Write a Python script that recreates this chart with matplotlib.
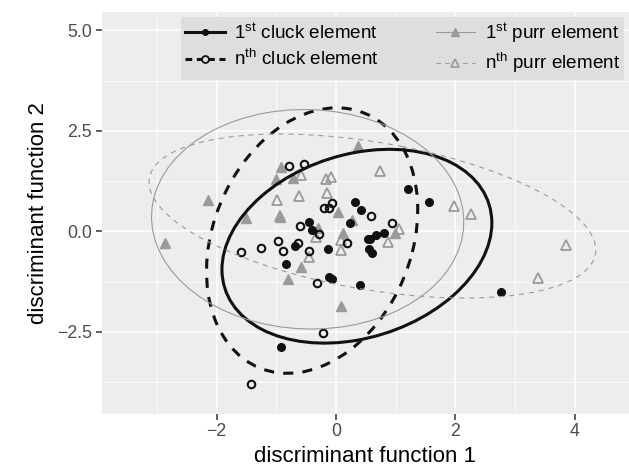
import matplotlib
matplotlib.use("Agg")
import matplotlib.pyplot as plt
from matplotlib.patches import Ellipse
from matplotlib.lines import Line2D
import numpy as np

plt.rcParams["font.family"] = ["Liberation Sans", "DejaVu Sans"]
plt.rcParams["mathtext.default"] = "regular"

# first cluck element (filled circles)
cluck1_x = [2.76, 1.21, 1.55, 0.31, 0.42, 0.24, -0.46, -0.41, -0.68, -0.13, -0.83,
            0.53, 0.57, 0.67, 0.80, 0.56, 0.61, -0.12, -0.07, 0.40, -0.92]
cluck1_y = [-1.51, 1.05, 0.72, 0.73, 0.53, 0.20, 0.23, 0.03, -0.37, -0.44, -0.81,
            -0.19, -0.19, -0.09, -0.05, -0.45, -0.53, -1.13, -1.19, -1.34, -2.87]

# nth cluck element (open circles)
cluckn_x = [-0.79, -0.53, -0.20, -0.12, -0.06, 0.59, 0.93, -0.60, -0.28, -0.97,
            -0.63, -1.26, -0.88, -0.46, 0.18, -1.60, -0.32, -0.21, -1.43]
cluckn_y = [1.63, 1.67, 0.57, 0.57, 0.70, 0.39, 0.21, 0.13, -0.07, -0.23,
            -0.30, -0.41, -0.50, -0.49, -0.30, -0.52, -1.28, -2.52, -3.80]

# first purr element (filled triangles)
purr1_x = [-2.86, -2.15, -1.51, -0.92, -1.00, -0.72, -0.93, -0.59, -0.81, 0.08,
           0.04, -0.31, 0.11, 0.36, 0.26, 0.98]
purr1_y = [-0.30, 0.77, 0.33, 1.59, 1.30, 1.32, 0.36, -0.89, -1.19, -1.86,
           0.48, 0.09, -0.03, 2.13, 0.29, -0.04]

# nth purr element (open triangles)
purrn_x = [0.73, -0.17, -0.09, -0.59, -0.15, -0.62, -0.99, -0.94, -0.33, 0.09,
           0.08, -0.45, 0.87, 1.06, 1.98, 2.26, 3.85, 3.38]
purrn_y = [1.50, 1.29, 1.35, 1.39, 0.96, 0.89, 0.79, 0.38, -0.13, -0.22,
           -0.46, -0.63, -0.26, 0.07, 0.64, 0.42, -0.34, -1.15]

# ellipses: centre and shape matrix [[xx, xy], [xy, yy]]
ell_centers = [(0.35, -0.37), (-0.40, -0.23), (-0.475, 0.30), (0.61, 0.38)]
ell_shapes = [[[5.11, 1.31], [1.31, 5.81]],
              [[3.13, 1.36], [1.36, 10.9]],
              [[6.84, -0.17], [-0.17, 7.45]],
              [[14.0, -3.15], [-3.15, 4.16]]]

labels = [r"1$^{st}$ cluck element", r"n$^{th}$ cluck element",
          r"1$^{st}$ purr element", r"n$^{th}$ purr element"]

BLACK = "#111111"
GREY = "#9a9a9a"

fig = plt.figure(figsize=(6.29, 4.76), dpi=100)
ax = fig.add_axes([0.1617, 0.131, 0.8383, 0.8444])
ax.set_facecolor("#ededed")

ax.plot(purr1_x, purr1_y, "^", ms=7, color=GREY, mec=GREY, zorder=3)
ax.plot(purrn_x, purrn_y, "^", ms=6.8, mfc="none", mec=GREY, mew=1.3, zorder=3)
ax.plot(cluck1_x, cluck1_y, "o", ms=5.5, color=BLACK, zorder=4)
ax.plot(cluckn_x, cluckn_y, "o", ms=5.4, mfc="none", mec=BLACK, mew=1.5, zorder=4)

styles = [dict(color=BLACK, lw=2.2, ls="-"),
          dict(color=BLACK, lw=2.2, ls=(0, (3.3, 3.0))),
          dict(color=GREY, lw=0.8, ls="-"),
          dict(color=GREY, lw=0.8, ls=(0, (4.5, 4.5)))]

for c, m, st in zip(ell_centers, ell_shapes, styles):
    vals, vecs = np.linalg.eigh(np.array(m))
    ang = np.degrees(np.arctan2(vecs[1, 1], vecs[0, 1]))
    e = Ellipse(c, 2 * np.sqrt(vals[1]), 2 * np.sqrt(vals[0]), angle=ang,
                fill=False, zorder=5, **st)
    ax.add_patch(e)

ax.set_xlim(-3.925, 4.908)
ax.set_ylim(-4.535, 5.463)

xt = [-2, 0, 2, 4]
yt = [-2.5, 0.0, 2.5, 5.0]
ax.set_xticks(xt)
ax.set_xticklabels([str(v).replace("-", "\u2212") for v in xt])
ax.set_yticks(yt)
ax.set_yticklabels([f"{v:.1f}".replace("-", "\u2212") for v in yt])
ax.set_xticks([-3, -1, 1, 3], minor=True)
ax.set_yticks([-3.75, -1.25, 1.25, 3.75], minor=True)
ax.grid(which="major", color="white", lw=1.1)
ax.grid(which="minor", color="white", lw=0.55)
ax.set_axisbelow(True)
ax.tick_params(which="major", length=4, width=1.1, color="#333333",
               labelsize=12.8, labelcolor="#4d4d4d", pad=3)
ax.tick_params(which="minor", length=0)
for s in ax.spines.values():
    s.set_visible(False)

ax.set_xlabel("discriminant function 1", fontsize=16, labelpad=4)
ax.set_ylabel("discriminant function 2", fontsize=16, labelpad=6)

handles = [
    Line2D([], [], color=BLACK, lw=2.2, marker="o", ms=4),
    Line2D([], [], color=BLACK, lw=2.2, ls=(0, (2.2, 1.5)), marker="o", ms=5,
           mfc="#dedede", mew=1.3),
    Line2D([], [], color=GREY, lw=0.8, marker="^", ms=6),
    Line2D([], [], color=GREY, lw=0.8, ls=(0, (4, 4)), marker="^", ms=6,
           mfc="#dedede", mew=1.2),
]
leg = ax.legend(handles, labels, ncol=2, loc="upper right",
                bbox_to_anchor=(0.9905, 0.9868), borderaxespad=0,
                fontsize=13.6, frameon=True, fancybox=False, facecolor="#dedede",
                edgecolor="none", framealpha=1, handlelength=2.1,
                handletextpad=0.5, columnspacing=3.0, labelspacing=0.35,
                borderpad=0.22)
leg.set_zorder(10)

fig.savefig("out.png", dpi=100)
